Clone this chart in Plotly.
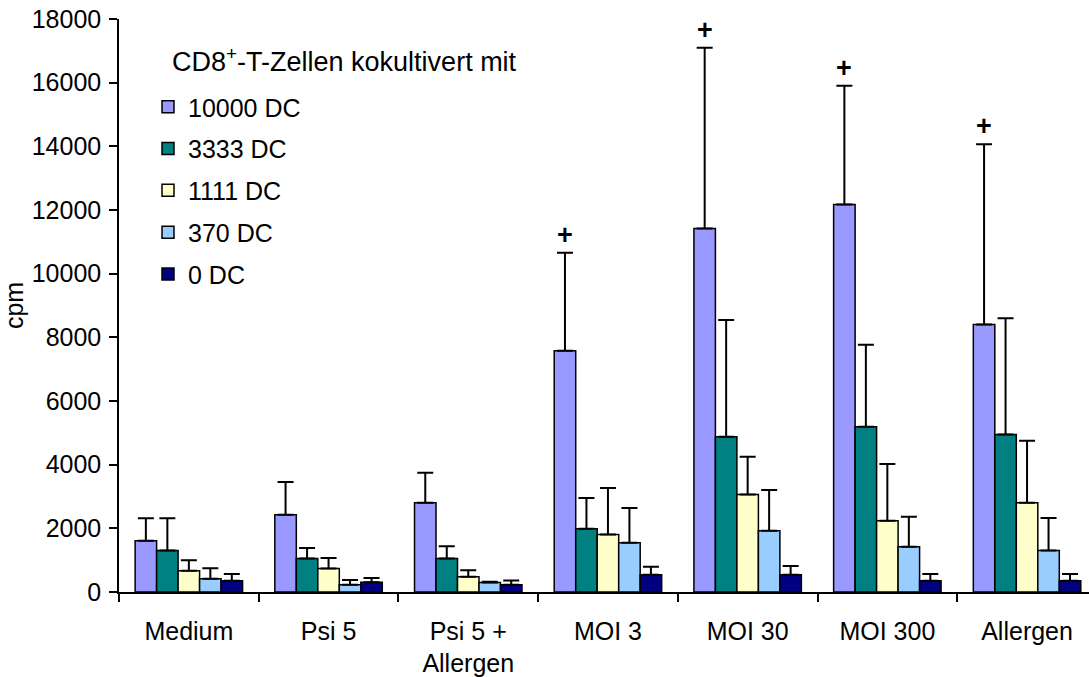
import plotly.graph_objects as go

# ---- data ----
categories = ["Medium", "Psi 5", "Psi 5 +<br>Allergen", "MOI 3", "MOI 30", "MOI 300", "Allergen"]
series_names = ["10000 DC", "3333 DC", "1111 DC", "370 DC", "0 DC"]

dc_10000 = [1610, 2430, 2805, 7580, 11415, 12170, 8400]
dc_10000_sd = [710, 1025, 945, 3080, 5685, 3730, 5665]
dc_3333 = [1300, 1050, 1050, 1990, 4880, 5195, 4945]
dc_3333_sd = [1020, 330, 385, 960, 3665, 2575, 3655]
dc_1111 = [670, 735, 480, 1810, 3060, 2240, 2805]
dc_1111_sd = [325, 335, 200, 1455, 1190, 1780, 1950]
dc_370 = [420, 230, 295, 1550, 1925, 1425, 1300]
dc_370_sd = [325, 145, 30, 1090, 1280, 940, 1025]
dc_0 = [355, 305, 230, 545, 545, 355, 355]
dc_0_sd = [210, 135, 135, 250, 270, 210, 210]

significance_10000 = ["", "", "", "+", "+", "+", "+"]

legend_title = "CD8<sup>+</sup>-T-Zellen kokultivert mit"
y_title = "cpm"
y_ticks = [0, 2000, 4000, 6000, 8000, 10000, 12000, 14000, 16000, 18000]

colors = ["#9999FF", "#008080", "#FFFFCC", "#99CCFF", "#000080"]

# ---- layout constants ----
W, H = 1089, 677
ML, MT, MB, MR = 119, 19, 85, 0
PW, PH = W - ML - MR, H - MT - MB
CAT_PX = 139.7
FONT = "Liberation Sans, Arial, sans-serif"
FS = 25
BARGAP = 1.5 / 6.5

values = [dc_10000, dc_3333, dc_1111, dc_370, dc_0]
sds = [dc_10000_sd, dc_3333_sd, dc_1111_sd, dc_370_sd, dc_0_sd]

fig = go.Figure()
for name, vals, sd, col in zip(series_names, values, sds, colors):
    fig.add_trace(go.Bar(
        x=categories, y=vals, name=name, legendgroup=name,
        marker=dict(color=col, line=dict(color="black", width=1.5)),
        error_y=dict(type="data", array=sd, arrayminus=[0] * len(sd), symmetric=False,
                     color="black", thickness=2, width=8),
    ))

# significance markers above the 10000 DC error bars
group_w = 1 - BARGAP
first_off = -group_w / 2 + group_w / 10
annotations = []
for i, s in enumerate(significance_10000):
    if s:
        annotations.append(dict(
            x=i + first_off, y=dc_10000[i] + dc_10000_sd[i], xref="x", yref="y",
            text="<b>" + s + "</b>", showarrow=False, yshift=18,
            font=dict(family=FONT, size=27, color="black"),
        ))

# legend title as text
annotations.append(dict(
    x=(170 - ML) / PW, y=1 - (60 - MT) / PH, xref="paper", yref="paper",
    xanchor="left", yanchor="middle", showarrow=False, text=legend_title,
    font=dict(family=FONT, size=27, color="black"),
))

fig.update_layout(
    width=W, height=H,
    margin=dict(l=ML, r=MR, t=MT, b=MB, pad=0),
    paper_bgcolor="white", plot_bgcolor="white",
    font=dict(family=FONT, size=FS, color="black"),
    barmode="group", bargap=BARGAP, bargroupgap=0,
    showlegend=True,
    legend=dict(
        x=(148 - ML) / PW, y=1 - (84 - MT) / PH, xanchor="left", yanchor="top",
        bgcolor="rgba(0,0,0,0)", borderwidth=0, traceorder="grouped",
        tracegroupgap=6.3, font=dict(family=FONT, size=FS, color="black"),
        itemclick=False,
    ),
    annotations=annotations,
    xaxis=dict(
        type="category", range=[-0.5, -0.5 + PW / CAT_PX],
        tickson="boundaries", ticks="outside", ticklen=8, tickwidth=1.5, tickcolor="black",
        showline=True, linecolor="black", linewidth=1.5, showgrid=False, zeroline=False,
        tickfont=dict(family=FONT, size=FS, color="black"), automargin=False,
        ticklabelstandoff=16,
    ),
    yaxis=dict(
        range=[0, 18000], tickvals=y_ticks, tickformat="d", ticks="outside", ticklen=8,
        tickwidth=1.5, tickcolor="black", showline=True, linecolor="black", linewidth=1.5,
        showgrid=False, zeroline=False, automargin=False, ticklabelstandoff=3,
        tickfont=dict(family=FONT, size=FS, color="black"),
        title=dict(text=y_title, font=dict(family=FONT, size=FS, color="black"), standoff=14),
    ),
)

fig.write_html("out.html")
